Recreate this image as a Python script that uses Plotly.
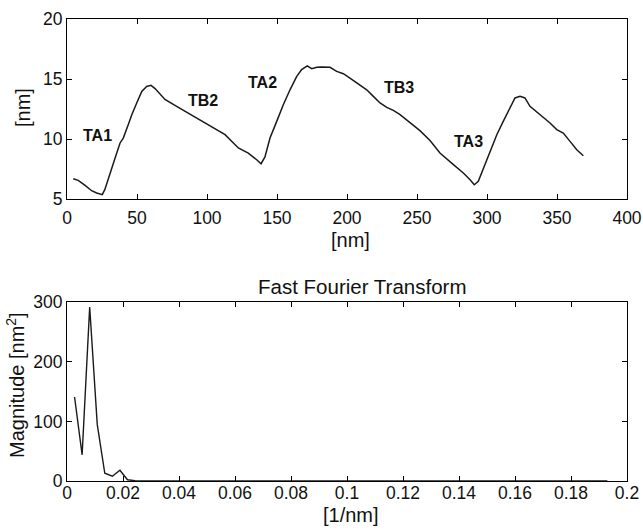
import plotly.graph_objects as go

# Surface height profile along the scan line
profile_x = [4.5, 8, 12.9, 17.6, 21.2, 25.2, 27, 30.7, 34.3, 37.9, 40.2, 43.8, 46.2, 49.8,
             53.4, 56.9, 60, 62.9, 70, 77.1, 89, 101, 112.9, 122.4, 129.5, 135.5, 138.6,
             141.4, 145, 149.8, 154.5, 159.3, 164, 167.6, 171.6, 174.8, 178.4, 181.9,
             187.9, 192.6, 197.4, 202.1, 209.3, 214.1, 218.8, 223.6, 228.4, 233.1, 237.9,
             245, 252.1, 259.3, 266.4, 276, 283.1, 287.9, 290.9, 293.8, 298.6, 303.4, 307,
             311.6, 316.4, 320, 323.6, 327.1, 330.7, 337.9, 345, 349.8, 354.5, 359.3,
             364.1, 368.8]
profile_y = [6.69, 6.55, 6.13, 5.69, 5.5, 5.36, 5.78, 7.03, 8.4, 9.67, 10.08, 11.2, 12.0, 13.0,
             13.97, 14.38, 14.47, 14.2, 13.3, 12.8, 11.97, 11.2, 10.36, 9.25, 8.83, 8.27, 7.94,
             8.5, 10.08, 11.47, 12.86, 14.1, 15.2, 15.78, 16.1, 15.86, 15.97, 16.0,
             15.97, 15.63, 15.44, 15.08, 14.53, 14.1, 13.55, 13.0, 12.64, 12.38, 12.03,
             11.33, 10.7, 9.87, 8.83, 7.86, 7.17, 6.61, 6.19, 6.47, 7.86, 9.25, 10.36,
             11.47, 12.58, 13.42, 13.55, 13.42, 12.72, 12.03, 11.33, 10.78, 10.5, 9.8,
             9.1, 8.6]

# Labelled flanks of the profile
label_text = ["TA1", "TB2", "TA2", "TB3", "TA3"]
label_x = [21.8, 96.9, 139.6, 236.9, 286.9]
label_y = [10.27, 13.2, 14.73, 14.29, 9.8]

# FFT magnitude spectrum
fft_freq = [0.0027, 0.0054, 0.0081, 0.0108, 0.0135, 0.0162, 0.0189, 0.0216, 0.0243,
            0.03, 0.04, 0.06, 0.08, 0.10, 0.12, 0.14, 0.16, 0.18, 0.193]
fft_mag = [141, 44, 292, 95, 13, 8, 18, 2, 0.6,
           0.4, 0.3, 0.2, 0.2, 0.1, 0.1, 0.1, 0.1, 0.1, 0.1]

fft_tickvals = [0, 0.02, 0.04, 0.06, 0.08, 0.1, 0.12, 0.14, 0.16, 0.18, 0.2]
fft_ticktext = ["0", "0.02", "0.04", "0.06", "0.08", "0.1", "0.12", "0.14", "0.16", "0.18", "0.2"]

W, H = 643, 530
FONT = "Liberation Sans, Arial, sans-serif"
LINE = "#1a1a1a"
TEXT = "#111"

fig = go.Figure()
fig.add_trace(go.Scatter(x=profile_x, y=profile_y, mode="lines",
                         line=dict(color=LINE, width=1.5), xaxis="x", yaxis="y",
                         showlegend=False))
fig.add_trace(go.Scatter(x=fft_freq, y=fft_mag, mode="lines",
                         line=dict(color=LINE, width=1.4), xaxis="x2", yaxis="y2",
                         showlegend=False))

for t, x, y in zip(label_text, label_x, label_y):
    fig.add_annotation(x=x, y=y, xref="x", yref="y", text="<b>%s</b>" % t,
                       showarrow=False, font=dict(size=16, family=FONT, color=TEXT),
                       xanchor="center", yanchor="middle")

x_dom = [67 / W, 627 / W]
top_dom = [1 - 199 / H, 1 - 19 / H]
bot_dom = [1 - 481 / H, 1 - 302.3 / H]

axis_common = dict(showgrid=False, zeroline=False, showline=True, linecolor="black",
                   linewidth=1, mirror="ticks", ticks="inside", ticklen=5,
                   tickcolor="black", automargin=False,
                   tickfont=dict(size=17.5, family=FONT, color=TEXT))

fig.update_layout(
    width=W, height=H, margin=dict(l=0, r=0, t=0, b=0, autoexpand=False),
    paper_bgcolor="white", plot_bgcolor="white",
    xaxis=dict(domain=x_dom, range=[0, 400], tickvals=[0, 50, 100, 150, 200, 250, 300, 350, 400],
               anchor="y", ticklabelstandoff=3, **axis_common),
    yaxis=dict(domain=top_dom, range=[5, 20], tickvals=[5, 10, 15, 20], anchor="x",
               **axis_common),
    xaxis2=dict(domain=x_dom, range=[0, 0.2], tickvals=fft_tickvals, ticktext=fft_ticktext,
                anchor="y2", ticklabelstandoff=-4, **axis_common),
    yaxis2=dict(domain=bot_dom, range=[0, 300], tickvals=[0, 100, 200, 300], anchor="x2",
                **axis_common),
)

label_font = dict(size=20, family=FONT, color=TEXT)
fig.add_annotation(x=350 / W, y=1 - 240 / H, xref="paper", yref="paper", text="[nm]",
                   showarrow=False, font=label_font, xanchor="center", yanchor="middle")
fig.add_annotation(x=351 / W, y=1 - 515 / H, xref="paper", yref="paper", text="[1/nm]",
                   showarrow=False, font=label_font, xanchor="center", yanchor="middle")
fig.add_annotation(x=23 / W, y=1 - 108 / H, xref="paper", yref="paper", text="[nm]",
                   showarrow=False, font=label_font, textangle=-90,
                   xanchor="center", yanchor="middle")
fig.add_annotation(x=15 / W, y=1 - 385 / H, xref="paper", yref="paper",
                   text="Magnitude [nm<sup>2</sup>]",
                   showarrow=False, font=label_font, textangle=-90,
                   xanchor="center", yanchor="middle")
fig.add_annotation(x=362 / W, y=1 - 286 / H, xref="paper", yref="paper",
                   text="Fast Fourier Transform",
                   showarrow=False, font=dict(size=20.5, family=FONT, color=TEXT),
                   xanchor="center", yanchor="middle")

fig.write_html("out.html")
